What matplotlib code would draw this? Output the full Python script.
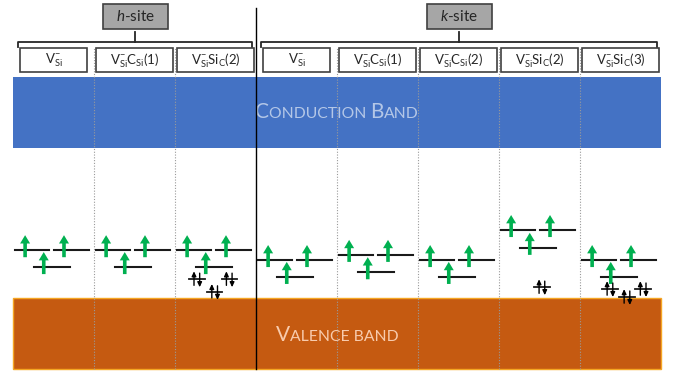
import matplotlib
matplotlib.use('Agg')
import matplotlib.pyplot as plt
from matplotlib.patches import Rectangle, FancyArrowPatch
from matplotlib.offsetbox import TextArea, HPacker, AnnotationBbox

plt.rcParams['font.family'] = ['Lato', 'DejaVu Sans']
plt.rcParams['mathtext.fontset'] = 'custom'
plt.rcParams['mathtext.rm'] = 'Lato'
plt.rcParams['mathtext.it'] = 'Lato:italic'

# defect configurations, one column each
defect_labels = [
    r'$\mathregular{V^{-}_{Si}}$',
    r'$\mathregular{V^{-}_{Si}C_{Si}(1)}$',
    r'$\mathregular{V^{-}_{Si}Si_{C}(2)}$',
    r'$\mathregular{V^{-}_{Si}}$',
    r'$\mathregular{V^{-}_{Si}C_{Si}(1)}$',
    r'$\mathregular{V^{-}_{Si}C_{Si}(2)}$',
    r'$\mathregular{V^{-}_{Si}Si_{C}(2)}$',
    r'$\mathregular{V^{-}_{Si}Si_{C}(3)}$',
]
site_names = ['h', 'k']
site_first = [0, 3]
site_last = [2, 7]

gap = 3.2  # eV, VB top at 0
# singly occupied defect levels (e doublet above a1)
e_upper = [1.02, 1.02, 1.02, 0.81, 0.92, 0.81, 1.45, 0.81]
e_lower = [0.66, 0.66, 0.66, 0.45, 0.55, 0.45, 1.07, 0.45]
# doubly occupied resonant levels near the VB
pair_col = [2, 2, 2, 6, 7, 7, 7]
pair_pos = [0.27, 0.67, 0.49, 0.53, 0.37, 0.78, 0.58]
pair_e = [0.40, 0.40, 0.13, 0.23, 0.19, 0.19, 0.02]

ncol = len(defect_labels)
band_h = 1.52

fig = plt.figure(figsize=(6.75, 3.74), dpi=100)
ax = fig.add_axes([0, 0, 1, 1])
ax.set_xlim(-0.16, 8.173)
ax.set_ylim(-1.62, 6.354)
ax.axis('off')

# bands
ax.add_patch(Rectangle((0, gap), ncol, band_h, fc='#4472c4', ec='none', zorder=1))
ax.add_patch(Rectangle((0, -band_h), ncol, band_h, fc='#c55a11', ec='#f5a623',
                       lw=1.0, zorder=1))


def small_caps(parts, color):
    boxes = []
    for txt, big in parts:
        boxes.append(TextArea(txt, textprops=dict(color=color, size=15 if big else 11.3)))
    return HPacker(children=boxes, align='baseline', pad=0, sep=0)


cb = small_caps([('C', True), ('ONDUCTION ', False), ('B', True), ('AND', False)], '#b4c7e7')
vb = small_caps([('V', True), ('ALENCE BAND', False)], '#f8cbad')
ax.add_artist(AnnotationBbox(cb, (ncol / 2, gap + band_h / 2), frameon=False, zorder=3))
ax.add_artist(AnnotationBbox(vb, (ncol / 2, -band_h / 2 - 0.02), frameon=False, zorder=3))

# column dividers
box_lo, box_hi = 4.81, 5.33
for c in range(1, ncol):
    if c == 3:
        ax.plot([c, c], [-band_h, 6.18], color='black', lw=1.0, zorder=4)
    else:
        ax.plot([c, c], [-band_h, box_hi + 0.02], color='#9a9a9a', lw=0.8,
                ls=(0, (1, 1.5)), zorder=2)

# label boxes
for c, lab in enumerate(defect_labels):
    w = 0.82 if lab.count('_') == 1 else 0.94
    ax.add_patch(Rectangle((c + 0.5 - w / 2, box_lo), w, box_hi - box_lo, fc='white',
                           ec='#404040', lw=1.2, zorder=3))
    ax.text(c + 0.5, (box_lo + box_hi) / 2 - 0.01, lab, ha='center', va='center',
            size=9.5, color='#262626', zorder=4)

# site brackets and tags
brace_y, brace_drop, tick_top = 5.46, 5.35, 5.67
for name, c0, c1 in zip(site_names, site_first, site_last):
    x0, x1 = c0 + 0.06, c1 + 0.95
    xc = (c0 + c1 + 1) / 2 + 0.01
    ax.plot([x0, x0, x1, x1], [brace_drop, brace_y, brace_y, brace_drop],
            color='#262626', lw=1.3, solid_joinstyle='round')
    ax.plot([xc, xc], [brace_y, tick_top], color='#262626', lw=1.3)
    ax.add_patch(Rectangle((xc - 0.4, 5.73), 0.8, 0.54, fc='#a6a6a6', ec='#404040',
                           lw=1.2, zorder=3))
    ax.text(xc, 6.0, r'$\mathit{%s}$-site' % name, ha='center', va='center',
            size=11, color='#262626', zorder=4)


def spin(x, y0, y1, color, tw, hw, hl, ms):
    style = 'simple,head_length=%g,head_width=%g,tail_width=%g' % (hl, hw, tw)
    ax.add_patch(FancyArrowPatch((x, y0), (x, y1), arrowstyle=style, mutation_scale=ms,
                                 color=color, lw=0, shrinkA=0, shrinkB=0, zorder=6))


# defect levels with unpaired spins
for c in range(ncol):
    eu, el = e_upper[c], e_lower[c]
    ax.plot([c + 0.02, c + 0.45], [eu, eu], color='#1a1a1a', lw=1.5, zorder=5)
    ax.plot([c + 0.51, c + 0.94], [eu, eu], color='#1a1a1a', lw=1.5, zorder=5)
    ax.plot([c + 0.26, c + 0.70], [el, el], color='#1a1a1a', lw=1.5, zorder=5)
    for xf, e in [(0.15, eu), (0.63, eu), (0.38, el)]:
        spin(c + xf, e - 0.15, e + 0.32, '#00b050', 0.26, 0.72, 0.6, 10)

# paired electrons
pair_style = '-|>,head_length=0.28,head_width=0.13'
for c, xf, e in zip(pair_col, pair_pos, pair_e):
    x = c + xf
    ax.plot([x - 0.095, x + 0.095], [e, e], color='#1a1a1a', lw=1.3, zorder=5)
    ax.annotate('', xy=(x - 0.035, e + 0.17), xytext=(x - 0.035, e - 0.13),
                arrowprops=dict(arrowstyle=pair_style, color='black', lw=1.0,
                                shrinkA=0, shrinkB=0), zorder=6)
    ax.annotate('', xy=(x + 0.035, e - 0.17), xytext=(x + 0.035, e + 0.13),
                arrowprops=dict(arrowstyle=pair_style, color='black', lw=1.0,
                                shrinkA=0, shrinkB=0), zorder=6)

fig.savefig('out.png', dpi=100)
